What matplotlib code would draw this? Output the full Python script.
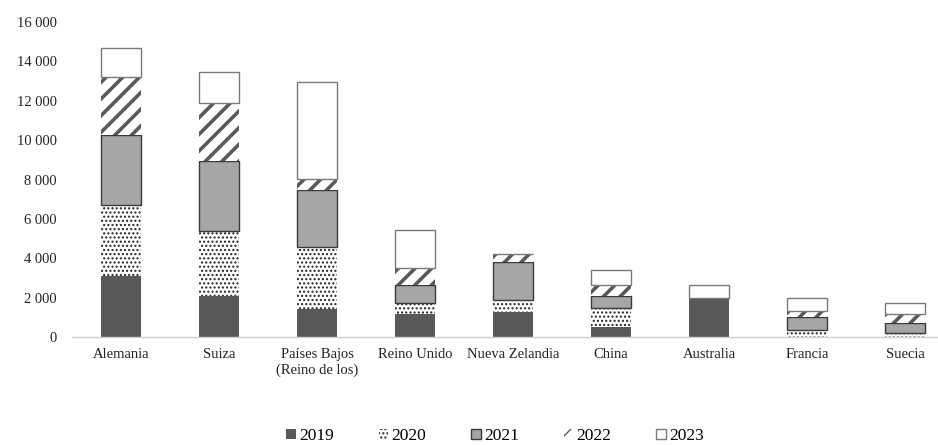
import matplotlib
matplotlib.use("Agg")
import matplotlib.pyplot as plt
import numpy as np

paises = ["Alemania", "Suiza", "Países Bajos\n(Reino de los)", "Reino Unido",
          "Nueva Zelandia", "China", "Australia", "Francia", "Suecia"]
anios = ["2019", "2020", "2021", "2022", "2023"]

v2019 = [3090, 2110, 1430, 1180, 1300, 510, 1970, 0, 0]
v2020 = [3640, 3260, 3160, 540, 570, 990, 0, 390, 220]
v2021 = [3560, 3590, 2870, 910, 1960, 580, 0, 620, 500]
v2022 = [2930, 2940, 590, 890, 390, 550, 0, 340, 480]
v2023 = [1440, 1550, 4880, 1950, 0, 810, 680, 620, 560]

series = [v2019, v2020, v2021, v2022, v2023]

# estilo de cada serie (relleno, borde/trama, trama, grosor trama)
estilos = [
    dict(facecolor="#595959", edgecolor="#595959", hatch=None, lw=0.0, hlw=1.0),
    dict(facecolor="white", edgecolor="#222222", hatch="....", lw=0.0, hlw=1.0),
    dict(facecolor="#a6a6a6", edgecolor="#3a3a3a", hatch=None, lw=1.0, hlw=1.0),
    dict(facecolor="white", edgecolor="#595959", hatch="//", lw=0.0, hlw=2.6),
    dict(facecolor="white", edgecolor="#7a7a7a", hatch=None, lw=1.0, hlw=1.0),
]

plt.rcParams["font.family"] = ["Liberation Serif", "DejaVu Serif"]
plt.rcParams["font.size"] = 10.5

fig = plt.figure(figsize=(9.38, 4.45), dpi=100)
ax = fig.add_axes([72 / 938, 107.7 / 445, 882 / 938, 315.3 / 445])

x = np.arange(len(paises))
base = np.zeros(len(paises))
for anio, vals, st in zip(anios, series, estilos):
    with plt.rc_context({"hatch.linewidth": st["hlw"]}):
        ax.bar(x, vals, width=0.4, bottom=base, facecolor=st["facecolor"],
               edgecolor=st["edgecolor"], hatch=st["hatch"],
               linewidth=st["lw"], label=anio)
    base += np.array(vals)

ax.set_xlim(-0.5, len(paises) - 0.5)
ax.set_ylim(0, 16000)
ax.set_yticks(np.arange(0, 16001, 2000))
ax.set_yticklabels([f"{v:,}".replace(",", " ") for v in range(0, 16001, 2000)])
ax.set_xticks(x)
ax.set_xticklabels(paises)
ax.tick_params(axis="y", length=0, pad=11, colors="#222222")
ax.tick_params(axis="x", length=0, pad=8, colors="#222222")
for s in ["top", "right", "left"]:
    ax.spines[s].set_visible(False)
ax.spines["bottom"].set_color("#d0d0d0")
ax.spines["bottom"].set_linewidth(1.0)

fig.legend(loc="center", bbox_to_anchor=(495 / 938, 9 / 445), ncol=5, frameon=False,
           fontsize=12.5, handlelength=0.55, handleheight=0.55, handletextpad=0.17,
           columnspacing=2.6, borderpad=0)

fig.savefig("out.png", dpi=100)
